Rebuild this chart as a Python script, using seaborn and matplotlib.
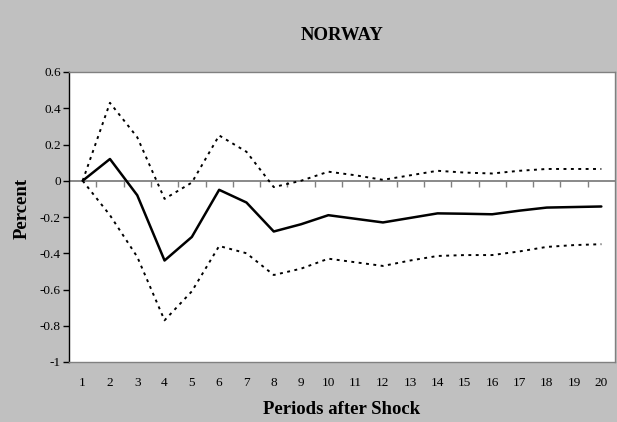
import matplotlib
matplotlib.use("Agg")
import matplotlib.pyplot as plt
from matplotlib.ticker import FuncFormatter
import seaborn as sns
import pandas as pd

# ---- data ----
periods = list(range(1, 21))
response = [0.0, 0.12, -0.08, -0.44, -0.31, -0.05, -0.12, -0.28, -0.24, -0.19,
            -0.21, -0.23, -0.205, -0.18, -0.182, -0.185, -0.165, -0.148, -0.145, -0.142]
upper = [0.0, 0.43, 0.24, -0.10, -0.01, 0.25, 0.16, -0.035, 0.0, 0.05,
         0.03, 0.005, 0.03, 0.055, 0.045, 0.04, 0.055, 0.065, 0.065, 0.065]
lower = [0.0, -0.19, -0.42, -0.77, -0.61, -0.36, -0.40, -0.52, -0.485, -0.43,
         -0.45, -0.47, -0.44, -0.415, -0.41, -0.41, -0.39, -0.365, -0.355, -0.35]
yticks = [0.6, 0.4, 0.2, 0, -0.2, -0.4, -0.6, -0.8, -1]
title = "NORWAY"
xlabel = "Periods after Shock"
ylabel = "Percent"

sns.set_theme(style="white")
plt.rcParams['font.family'] = ['Liberation Serif', 'DejaVu Serif']
plt.rcParams['text.color'] = 'black'
plt.rcParams['xtick.color'] = 'black'
plt.rcParams['ytick.color'] = 'black'
plt.rcParams['axes.labelcolor'] = 'black'

fig = plt.figure(figsize=(6.17, 4.22), dpi=100, facecolor="#C0C0C0")
ax = fig.add_axes([69/617, 1 - 362/422, (615 - 69)/617, (362 - 72)/422])
ax.set_facecolor("white")

df = pd.DataFrame({"period": periods, "response": response,
                   "upper": upper, "lower": lower})

ymin, ymax = -1, 0.6
ax.axhline(0, color="#808080", linewidth=1.3, zorder=1)

sns.lineplot(data=df, x="period", y="upper", ax=ax, color="black",
             linewidth=1.4)
sns.lineplot(data=df, x="period", y="lower", ax=ax, color="black",
             linewidth=1.4)
for ln in ax.lines[1:]:
    ln.set_dashes((1.5, 2.3))
sns.lineplot(data=df, x="period", y="response", ax=ax, color="black",
             linewidth=1.8)

ax.set_ylim(ymin, ymax)
ax.set_xlim(0.5, 20.5)
ax.set_yticks(yticks)
ax.yaxis.set_major_formatter(FuncFormatter(lambda v, p: f"{v:g}".replace("\u2212", "-")))
ax.set_xticks(periods)
ax.set_xticklabels([str(p) for p in periods])

ax.tick_params(axis="y", direction="out", length=4, width=1, color="black",
               labelsize=9.5, pad=2, left=True, labelcolor="black")
ax.tick_params(axis="x", length=0, labelsize=9.5, pad=11, labelcolor="black")

for s in ["top", "right", "bottom"]:
    ax.spines[s].set_color("#808080")
    ax.spines[s].set_linewidth(1)
ax.spines["left"].set_color("black")
ax.spines["left"].set_linewidth(1)

# category boundary ticks on the zero line
zero_frac = (0 - ymin) / (ymax - ymin)
sec = ax.secondary_xaxis(zero_frac)
sec.set_xticks([p + 0.5 for p in periods[:-1]])
sec.set_xticklabels([])
sec.xaxis.set_ticks_position("bottom")
sec.tick_params(direction="out", length=4, width=1, color="#808080")
for s in sec.spines.values():
    s.set_visible(False)

ax.set_xlabel("")
ax.set_ylabel("")
fig.text(342/617, 1 - 35/422, title, ha="center", va="center",
         fontsize=13.5, fontweight="bold", color="black")
fig.text(342/617, 1 - 409/422, xlabel, ha="center", va="center",
         fontsize=13.5, fontweight="bold", color="black")
fig.text(22/617, 1 - 208/422, ylabel, ha="center", va="center",
         rotation=90, fontsize=13.5, fontweight="bold", color="black")

fig.savefig("out.png", dpi=100, facecolor=fig.get_facecolor())
